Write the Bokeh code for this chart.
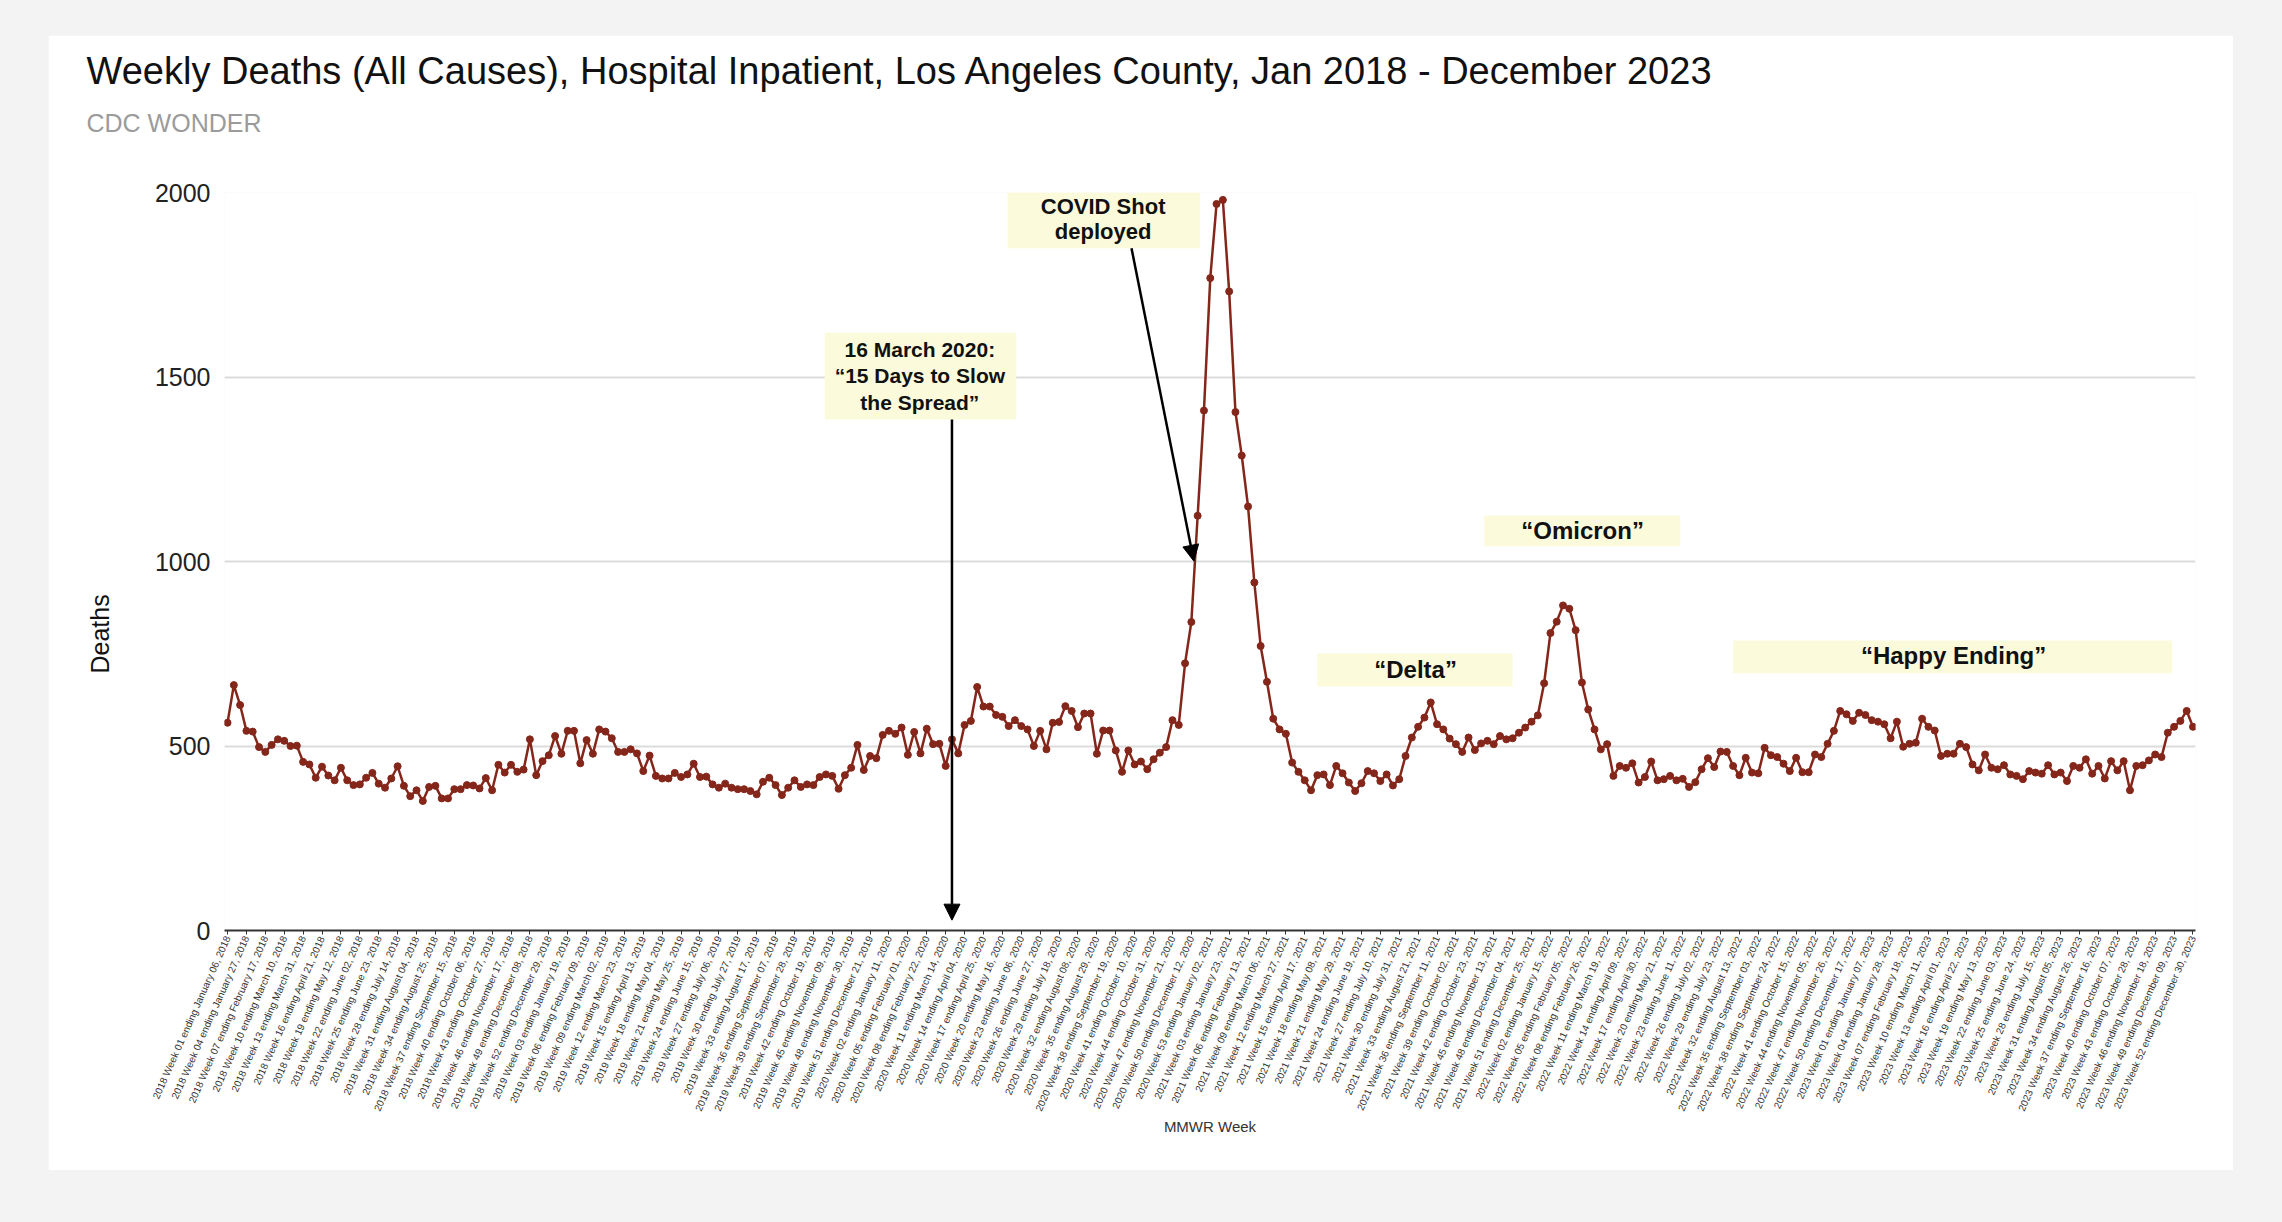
import datetime as dt
import math
from bokeh.plotting import figure
from bokeh.models import (Range1d, FixedTicker, BoxAnnotation, Label, Arrow,
                          NormalHead, Title)
from bokeh.layouts import column
from bokeh.embed import file_html
from bokeh.resources import INLINE

# ---------------- data ----------------
years = [2018, 2019, 2020, 2021, 2022, 2023]
weeks_per_year = [52, 52, 53, 52, 52, 52]
first_week_end = dt.date(2018, 1, 6)

deaths = [
    563, 665, 611, 541, 539, 497, 484, 503, 518, 514,
    500, 501, 457, 450, 414, 444, 420, 407, 441, 407,
    394, 396, 414, 427, 398, 387, 412, 445, 392, 364,
    380, 351, 389, 392, 358, 358, 383, 383, 394, 393,
    385, 413, 380, 449, 428, 449, 430, 436, 518, 421,
    459, 475, 527, 479, 541, 541, 453, 516, 479, 545,
    539, 521, 484, 484, 491, 480, 432, 474, 419, 412,
    412, 427, 416, 423, 452, 416, 417, 396, 387, 398,
    387, 383, 383, 378, 369, 403, 414, 394, 367, 387,
    407, 389, 396, 394, 416, 423, 419, 384, 421, 441,
    503, 435, 473, 467, 530, 541, 533, 550, 476, 538,
    480, 547, 505, 506, 446, 518, 480, 557, 568, 660,
    607, 607, 584, 579, 554, 570, 554, 545, 500, 541,
    491, 563, 565, 608, 595, 551, 588, 588, 479, 542,
    542, 488, 430, 488, 450, 458, 437, 464, 482, 497,
    570, 557, 724, 836, 1124, 1409, 1768, 1969, 1980, 1732,
    1405, 1287, 1149, 943, 771, 674, 574, 545, 533, 455,
    430, 407, 380, 421, 423, 394, 446, 426, 401, 378,
    399, 432, 426, 405, 423, 393, 410, 473, 523, 552,
    577, 618, 559, 545, 520, 505, 484, 523, 489, 507,
    514, 505, 527, 518, 521, 536, 550, 566, 583, 670,
    806, 837, 881, 872, 814, 672, 599, 545, 491, 505,
    419, 446, 441, 453, 401, 416, 458, 407, 410, 419,
    407, 411, 389, 402, 437, 467, 443, 485, 484, 446,
    421, 468, 428, 426, 495, 475, 470, 452, 432, 468,
    429, 429, 477, 470, 506, 541, 595, 586, 568, 590,
    584, 570, 566, 559, 521, 566, 498, 506, 509, 574,
    552, 542, 473, 479, 479, 506, 497, 450, 434, 477,
    441, 437, 448, 423, 419, 410, 432, 428, 425, 448,
    423, 428, 405, 446, 441, 464, 425, 446, 412, 459,
    434, 459, 380, 446, 448, 461, 477, 470, 536, 552,
    568, 595, 552,
]

y_ticks = [0, 500, 1000, 1500, 2000]

title_text = "Weekly Deaths (All Causes), Hospital Inpatient, Los Angeles County, Jan 2018 - December 2023"
subtitle_text = "CDC WONDER"
y_label_text = "Deaths"
x_label_text = "MMWR Week"

# MMWR week category labels
week_labels = []
k = 0
for yr, n in zip(years, weeks_per_year):
    for w in range(1, n + 1):
        end = first_week_end + dt.timedelta(days=7 * k)
        week_labels.append(f"{yr} Week {w:02d} ending {end.strftime('%B %d, %Y')}")
        k += 1

x_idx = list(range(len(deaths)))
tick_idx = list(range(0, len(deaths), 3))

# annotation texts
ann_march_lines = ["16 March 2020:", "\u201c15 Days to Slow", "the Spread\u201d"]
ann_shot_lines = ["COVID Shot", "deployed"]
ann_waves = ["\u201cDelta\u201d", "\u201cOmicron\u201d", "\u201cHappy Ending\u201d"]

# ---------------- styling ----------------
FONT = "Liberation Sans"
LINE_C = "#85261a"
BOX_C = "#fbfbdc"

p = figure(width=2185, height=1135, output_backend="svg", toolbar_location=None,
           x_range=Range1d(-0.48, 312.4), y_range=Range1d(0, 2000),
           min_border_left=176, min_border_right=38, min_border_top=157,
           min_border_bottom=240, outline_line_color=None,
           background_fill_color="white", border_fill_color="white")
p.margin = (35, 49, 52, 48)

# titles (a blank spacer sits between frame and subtitle)
p.add_layout(Title(text=" ", text_font=FONT, text_font_size="12px",
                   standoff=27), "above")
p.add_layout(Title(text=subtitle_text, text_font=FONT, text_font_size="25px",
                   text_font_style="normal", text_color="#9b9b9b", align="left",
                   offset=-138, standoff=26), "above")
p.add_layout(Title(text=title_text, text_font=FONT, text_font_size="38px",
                   text_font_style="normal", text_color="#111111", align="left",
                   offset=-138, standoff=4), "above")

# axes
p.xaxis.ticker = FixedTicker(ticks=tick_idx)
p.xaxis.major_label_overrides = {i: week_labels[i] for i in tick_idx}
p.xaxis.major_label_orientation = math.radians(66)
p.xaxis.major_label_text_font = FONT
p.xaxis.major_label_text_font_size = "10px"
p.xaxis.major_label_text_color = "#333333"
p.xaxis.major_label_standoff = 2
p.xaxis.major_tick_out = 4
p.xaxis.major_tick_in = 0
p.xaxis.minor_tick_line_color = None
p.xaxis.axis_line_color = "#333333"
p.xaxis.axis_line_width = 2
p.xaxis.major_tick_line_color = "#333333"
p.xaxis.axis_label = x_label_text
p.xaxis.axis_label_text_font = FONT
p.xaxis.axis_label_text_font_size = "15px"
p.xaxis.axis_label_text_font_style = "normal"
p.xaxis.axis_label_text_color = "#333333"
p.xaxis.axis_label_standoff = 0

p.yaxis.ticker = FixedTicker(ticks=y_ticks)
p.yaxis.major_label_text_font = FONT
p.yaxis.major_label_text_font_size = "25px"
p.yaxis.major_label_text_color = "#222222"
p.yaxis.major_label_standoff = 8
p.yaxis.major_tick_line_color = None
p.yaxis.minor_tick_line_color = None
p.yaxis.axis_line_color = None

# y axis title as a left-side title, sitting a little below the frame centre
p.add_layout(Title(text=" ", text_font=FONT, text_font_size="12px",
                   standoff=22), "left")
p.add_layout(Title(text=y_label_text, text_font=FONT, text_font_size="25px",
                   text_font_style="normal", text_color="#111111", align="left",
                   offset=257, standoff=0), "left")

p.xgrid.grid_line_color = None
p.ygrid.grid_line_color = "#dcdcdc"
p.ygrid.grid_line_width = 2

# series
p.line(x_idx, deaths, line_color=LINE_C, line_width=2.5)
p.scatter(x_idx, deaths, size=7, color=LINE_C)

# annotation boxes
boxes = [
    (94.8, 125.2, 1620, 1385),   # 16 March
    (123.8, 154.4, 2001, 1849),  # COVID shot
    (173.0, 204.0, 751, 661),    # Delta
    (199.5, 230.6, 1125, 1041),  # Omicron
    (239.0, 308.7, 786, 697),    # Happy Ending
]
for l, r, t, b in boxes:
    p.add_layout(BoxAnnotation(left=l, right=r, top=t, bottom=b,
                               fill_color=BOX_C, fill_alpha=1.0,
                               line_color=None))

# arrows
p.add_layout(Arrow(end=NormalHead(size=16, fill_color="black", line_color="black"),
                   x_start=115, y_start=1385, x_end=115, y_end=28,
                   line_color="black", line_width=2.5))
p.add_layout(Arrow(end=NormalHead(size=16, fill_color="black", line_color="black"),
                   x_start=143.5, y_start=1849, x_end=153.4, y_end=1001,
                   line_color="black", line_width=2.5))

def add_text(x, y, txt, size):
    p.add_layout(Label(x=x, y=y, text=txt, text_font=FONT, text_font_size=size,
                       text_font_style="bold", text_color="#111111",
                       text_align="center", text_baseline="middle"))

for yv, line in zip([1574, 1503, 1432], ann_march_lines):
    add_text(109.9, yv, line, "21px")
for yv, line in zip([1963, 1893], ann_shot_lines):
    add_text(139.0, yv, line, "22px")
add_text(188.6, 707, ann_waves[0], "24px")
add_text(215.1, 1084, ann_waves[1], "24px")
add_text(274.0, 745, ann_waves[2], "24px")

layout = column(p, width=2282, height=1222, styles={"background-color": "#f3f3f3"})

with open("out.html", "w") as f:
    f.write(file_html(layout, INLINE))
